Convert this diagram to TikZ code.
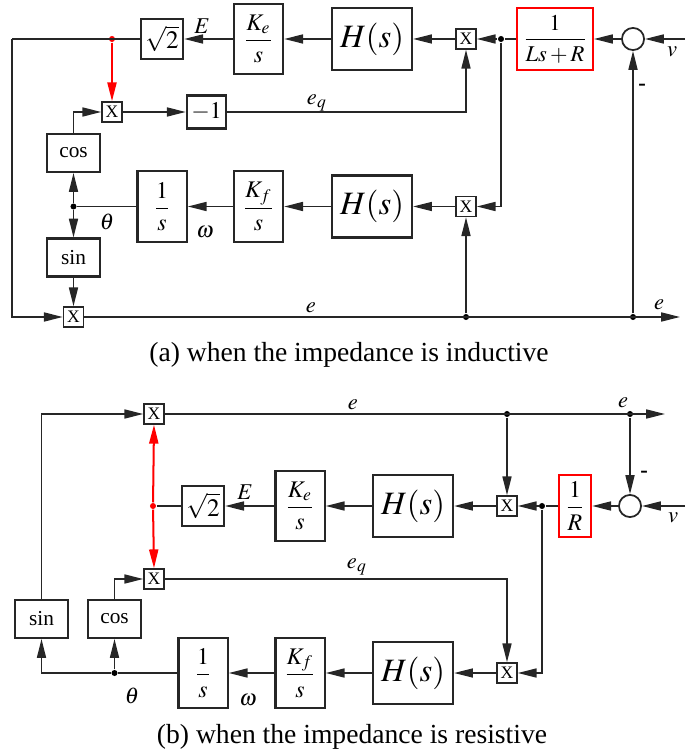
\documentclass[tikz,border=0pt]{standalone}
\usepackage{amsmath}
\usepackage{mathptmx}
\usepackage{fontspec}
\setmainfont{Liberation Serif}
\usetikzlibrary{arrows.meta,positioning,calc}

\begin{document}
\begin{tikzpicture}[
  x=0.014cm, y=-0.014cm,
  blk/.style={rectangle, draw=black!85, line width=0.9pt, inner sep=0pt,
              align=center, font=\fontsize{9.5}{11}\selectfont},
  kblk/.style={blk, minimum width=0.69cm, minimum height=0.99cm},
  hblk/.style={blk, minimum width=1.12cm, minimum height=0.87cm,
               font=\fontsize{13}{15}\selectfont},
  sqblk/.style={blk, minimum width=0.59cm, minimum height=0.57cm,
                font=\fontsize{10}{12}\selectfont},
  trig/.style={blk, minimum width=0.74cm, minimum height=0.53cm,
               font=\fontsize{8.5}{10}\selectfont},
  redblk/.style={blk, draw=red, minimum height=0.86cm},
  mulbox/.style={rectangle, draw=black!85, line width=0.6pt, minimum size=0.28cm,
                 inner sep=0pt, font=\fontsize{7}{7}\selectfont},
  sumc/.style={circle, draw=black!85, line width=0.7pt, minimum size=0.31cm, inner sep=0pt},
  jdot/.style={circle, fill=black, inner sep=0pt, minimum size=2.4pt},
  rdot/.style={jdot, fill=red},
  lbl/.style={inner sep=0pt, font=\fontsize{9}{10}\selectfont},
  capt/.style={inner sep=0pt, font=\fontsize{11}{13}\selectfont},
  sline/.style={line width=0.6pt, draw=black!85},
  sarr/.style={-{Triangle[length=7.5pt,width=3.6pt]}, line width=0.6pt, draw=black!85},
  rarr/.style={-{Triangle[length=7.5pt,width=3.6pt]}, line width=0.8pt, draw=red, fill=red}
]
\useasboundingbox (0,0) rectangle (685,756);

%% (a) inductive impedance
\node[sqblk] (sqa) at (162,39) {$\sqrt{2}$};
\node[kblk]  (kea) at (258.5,39) {$\dfrac{K_e}{s}$};
\node[hblk]  (hua) at (372,39) {$H(s)$};
\node[mulbox] (mua) at (466,39) {X};
\node[jdot]  (da)  at (501,39) {};
\node[redblk, minimum width=1.06cm, font=\fontsize{9}{11}\selectfont] (lra) at (555,39) {$\dfrac{1}{Ls+R}$};
\node[sumc]  (sa)  at (633,39) {};
\coordinate (va) at (685,39);
\coordinate (ca) at (12,39);
\node[rdot]  (rda) at (112,39) {};

\node[mulbox] (mxqa) at (112,112) {X};
\node[blk, minimum width=0.55cm, minimum height=0.46cm] (m1a) at (206.5,112) {$-1$};
\node[trig]  (cosa) at (73.5,153) {cos};

\node[jdot]  (ja)  at (73.5,206.5) {};
\node[kblk]  (isa) at (162,206.5) {$\dfrac{1}{s}$};
\node[kblk]  (kfa) at (258.5,206.5) {$\dfrac{K_f}{s}$};
\node[hblk]  (hla) at (372,206.5) {$H(s)$};
\node[mulbox] (mla) at (466,206.5) {X};
\node[trig]  (sina) at (73.5,257.5) {sin};

\node[mulbox] (mxa) at (73.5,317) {X};
\node[jdot]  (dea1) at (466,317) {};
\node[jdot]  (dea2) at (633,317) {};
\coordinate (eoa) at (680,317);

%% arrows (a)
\draw[sarr] (va) -- (sa);
\draw[sarr] (sa) -- (lra);
\draw[sline] (lra) -- (da);
\draw[sarr] (da) -- (mua);
\draw[sarr] (mua) -- (hua);
\draw[sarr] (hua) -- (kea);
\draw[sarr] (kea) -- (sqa);
\draw[sline] (sqa.west) -- (ca);
\draw[sarr] (ca) |- (mxa.west);
\draw[rarr] (rda) -- (mxqa.north);
\draw[sarr] (cosa.north) |- (mxqa.west);
\draw[sarr] (mxqa) -- (m1a);
\draw[sarr] (m1a.east) -| (mua.south);
\draw[sarr] (da) |- (mla.east);
\draw[sarr] (mla) -- (hla);
\draw[sarr] (hla) -- (kfa);
\draw[sarr] (kfa) -- (isa);
\draw[sline] (isa.west) -- (ja);
\draw[sarr] (ja) -- (cosa.south);
\draw[sarr] (ja) -- (sina.north);
\draw[sarr] (sina.south) -- (mxa.north);
\draw[sarr] (mxa.east) -- (eoa);
\draw[sarr] (dea1) -- (mla.south);
\draw[sarr] (dea2) -- (sa.south);

\node[lbl] (lEa) at (202,26) {$E$};
\node[lbl] (lqa) at (317,103) {$e_q$};
\node[lbl] (lta) at (107,222) {$\theta$};
\node[lbl] (lwa) at (205,232) {$\omega$};
\node[lbl] (lea1) at (311,308) {$e$};
\node[lbl] (lea2) at (659,305) {$e$};
\node[lbl] (lva) at (672,52) {$v$};
\node[lbl, font=\bfseries\fontsize{9}{10}\selectfont] (lma) at (642,87) {-};
\node[capt] (capa) at (349,355) {(a) when the impedance is inductive};

%% (b) resistive impedance
\node[mulbox] (mxt) at (154,414) {X};
\node[jdot]  (deb1) at (507,414) {};
\node[jdot]  (deb2) at (630,414) {};
\coordinate (eob) at (665,414);

\node[rdot]  (rdb) at (153,506) {};
\node[sqblk] (sqb) at (203,506) {$\sqrt{2}$};
\node[kblk]  (keb) at (300,506) {$\dfrac{K_e}{s}$};
\node[hblk]  (hub) at (413,506) {$H(s)$};
\node[mulbox] (mub) at (507,506) {X};
\node[jdot]  (db)  at (542,506) {};
\node[redblk, minimum width=0.45cm] (rb) at (575,506) {$\dfrac{1}{R}$};
\node[sumc]  (sb)  at (630,506) {};
\coordinate (vb) at (685,506);

\node[mulbox] (mxc) at (154,579) {X};
\node[trig]  (sinb) at (41.5,619) {sin};
\node[trig]  (cosb) at (114.5,619) {cos};

\node[jdot]  (jb)  at (114.5,673) {};
\node[kblk]  (isb) at (203,673) {$\dfrac{1}{s}$};
\node[kblk]  (kfb) at (300,673) {$\dfrac{K_f}{s}$};
\node[hblk]  (hlb) at (413,673) {$H(s)$};
\node[mulbox] (mlb) at (507,673) {X};

%% arrows (b)
\draw[sarr] (sinb.north) |- (mxt.west);
\draw[sarr] (mxt.east) -- (eob);
\draw[sarr] (deb1) -- (mub.north);
\draw[sarr] (deb2) -- (sb.north);
\draw[sarr] (vb) -- (sb);
\draw[sarr] (sb) -- (rb);
\draw[sline] (rb) -- (db);
\draw[sarr] (db) -- (mub);
\draw[sarr] (mub) -- (hub);
\draw[sarr] (hub) -- (keb);
\draw[sarr] (keb) -- (sqb);
\draw[sline] (sqb.west) -- (rdb);
\draw[rarr] (rdb) -- (mxt.south);
\draw[rarr] (rdb) -- (mxc.north);
\draw[sarr] (cosb.north) |- (mxc.west);
\draw[sarr] (mxc.east) -| (mlb.north);
\draw[sarr] (db) |- (mlb.east);
\draw[sarr] (mlb) -- (hlb);
\draw[sarr] (hlb) -- (kfb);
\draw[sarr] (kfb) -- (isb);
\draw[sline] (isb.west) -- (jb);
\draw[sarr] (jb) -- (cosb.south);
\draw[sarr] (jb) -| (sinb.south);

\node[lbl] (leb1) at (353,405) {$e$};
\node[lbl] (leb2) at (623,403) {$e$};
\node[lbl] (lEb) at (245,492) {$E$};
\node[lbl] (lqb) at (357,567) {$e_q$};
\node[lbl] (ltb) at (132,696) {$\theta$};
\node[lbl] (lwb) at (248,700) {$\omega$};
\node[lbl] (lvb) at (673,518) {$v$};
\node[lbl, font=\bfseries\fontsize{9}{10}\selectfont] (lmb) at (644,474) {-};
\node[capt] (capb) at (352,737) {(b) when the impedance is resistive};

\end{tikzpicture}
\end{document}
